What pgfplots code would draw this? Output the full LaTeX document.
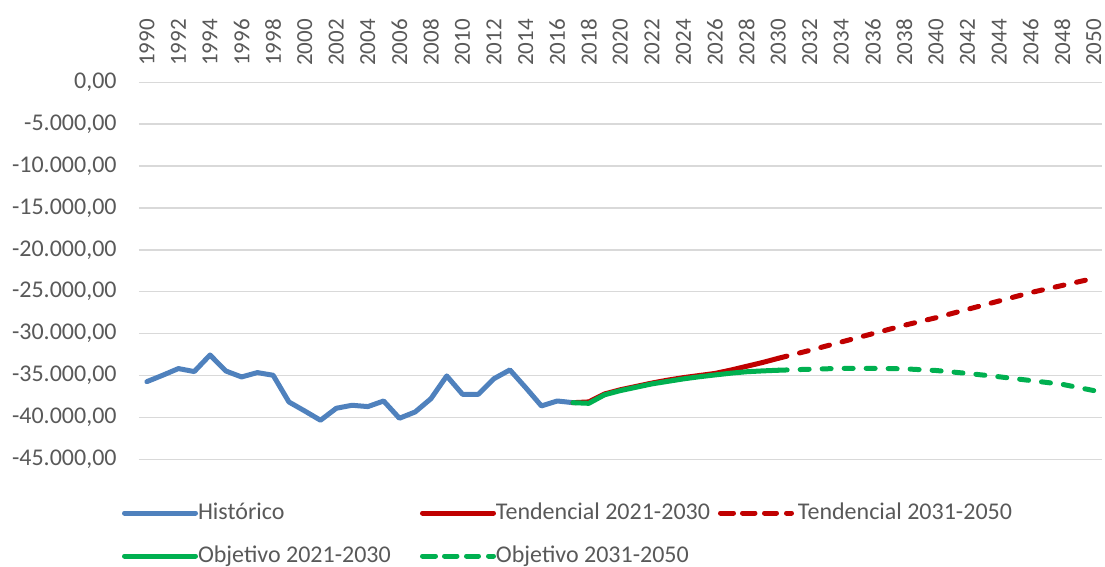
\documentclass[border=0pt]{standalone}
\usepackage{pgfplots}
\pgfplotsset{compat=1.18}
\usepackage{fontspec}
\setmainfont{Carlito}
\definecolor{histblue}{HTML}{4F81BD}
\definecolor{tendred}{HTML}{C00000}
\definecolor{objgreen}{HTML}{00B050}
\definecolor{lbl}{HTML}{595959}
\definecolor{grd}{HTML}{D9D9D9}
\pgfplotsset{
  legend image code/.code={\path (0pt,0pt) -- (35.5pt,0pt); \draw[#1] (1.25pt,0pt) -- (32.75pt,0pt);},
  dashleg/.style={legend image code/.code={\path (0pt,0pt) -- (35.5pt,0pt);
     \draw[##1, solid] (1.25pt,0pt) -- (6.5pt,0pt) (12pt,0pt) -- (17.25pt,0pt) (22.75pt,0pt) -- (28pt,0pt);}},
}
\begin{document}
\begin{tikzpicture}
\path[use as bounding box] (-69.5pt,-53.85pt) rectangle (483pt,229.65pt);
\begin{axis}[
  at={(0pt,0pt)}, anchor=south west,
  scale only axis, width=481.35pt, height=188.5pt,
  xmin=1989.5, xmax=2050.5, ymin=-45000, ymax=0,
  axis line style={draw=none},
  major tick length=0pt, tick style={draw=none},
  xtick={1990,1992,...,2050},
  ytick={-45000,-40000,...,0},
  ymajorgrids, grid style={grd, line width=0.75pt},
  xticklabel pos=upper,
  x tick label style={rotate=90, anchor=west, inner xsep=8pt, inner ysep=0pt, font=\fontsize{11.5}{13}\selectfont, text=lbl,
    /pgf/number format/.cd, fixed, precision=0, 1000 sep={}, assume math mode=true},
  y tick label style={anchor=east, inner sep=0pt, xshift=-11pt, font=\fontsize{12}{14}\selectfont, text=lbl,
    /pgf/number format/.cd, fixed, fixed zerofill, precision=2, 1000 sep={.}, use comma, assume math mode=true},
  scaled y ticks=false, scaled x ticks=false,
  legend columns=3,
  legend cell align=left,
  legend style={draw=none, fill=none, inner sep=0pt, outer sep=0pt,
    at={(-0.01766,-0.1995)}, anchor=west, row sep=9.5pt, column sep=0pt,
    font=\fontsize{12}{14}\selectfont, text=lbl,
    nodes={inner xsep=0pt, inner ysep=0pt, text height=9pt, text depth=3pt}},
  every axis plot/.append style={line width=2.5pt, line cap=round, line join=round},
]
\addplot[histblue] coordinates {
(1990,-35730) (1991,-34970) (1992,-34170) (1993,-34530) (1994,-32550)
(1995,-34460) (1996,-35170) (1997,-34650) (1998,-34970) (1999,-38160)
(2000,-39230) (2001,-40340) (2002,-38910) (2003,-38550) (2004,-38710)
(2005,-38040) (2006,-40100) (2007,-39350) (2008,-37760) (2009,-35050)
(2010,-37240) (2011,-37240) (2012,-35370) (2013,-34330) (2014,-36440)
(2015,-38630) (2016,-38040) (2017,-38240)};
\addlegendentry{\makebox[111pt][l]{Histórico}}
\addplot[tendred] coordinates {
(2017,-38240) (2018,-38150) (2019,-37200) (2020,-36700) (2021,-36300)
(2022,-35900) (2023,-35550) (2024,-35250) (2025,-35000) (2026,-34750)
(2027,-34350) (2028,-33900) (2029,-33450) (2030,-32950)};
\addlegendentry{\makebox[111pt][l]{Tendencial 2021-2030}}
\addplot[tendred, dash pattern=on 4.5pt off 6.5pt, dashleg] coordinates {
(2030,-32950) (2032,-32000) (2034,-31000) (2036,-30000) (2038,-29000)
(2040,-28100) (2042,-27100) (2044,-26100) (2046,-25100) (2048,-24250) (2050,-23400)};
\addlegendentry{\hspace{2pt}Tendencial 2031-2050}
\addplot[objgreen] coordinates {
(2017,-38240) (2018,-38320) (2019,-37300) (2020,-36800) (2021,-36400)
(2022,-36000) (2023,-35700) (2024,-35400) (2025,-35150) (2026,-34930)
(2027,-34720) (2028,-34550) (2029,-34450) (2030,-34370)};
\addlegendentry{\makebox[111pt][l]{Objetivo 2021-2030}}
\addplot[objgreen, dash pattern=on 4.5pt off 6.5pt, dashleg] coordinates {
(2030,-34370) (2032,-34250) (2034,-34150) (2036,-34150) (2038,-34200)
(2040,-34400) (2042,-34750) (2044,-35150) (2046,-35600) (2048,-36050) (2050,-36800)};
\addlegendentry{Objetivo 2031-2050}
\end{axis}
\end{tikzpicture}
\end{document}
